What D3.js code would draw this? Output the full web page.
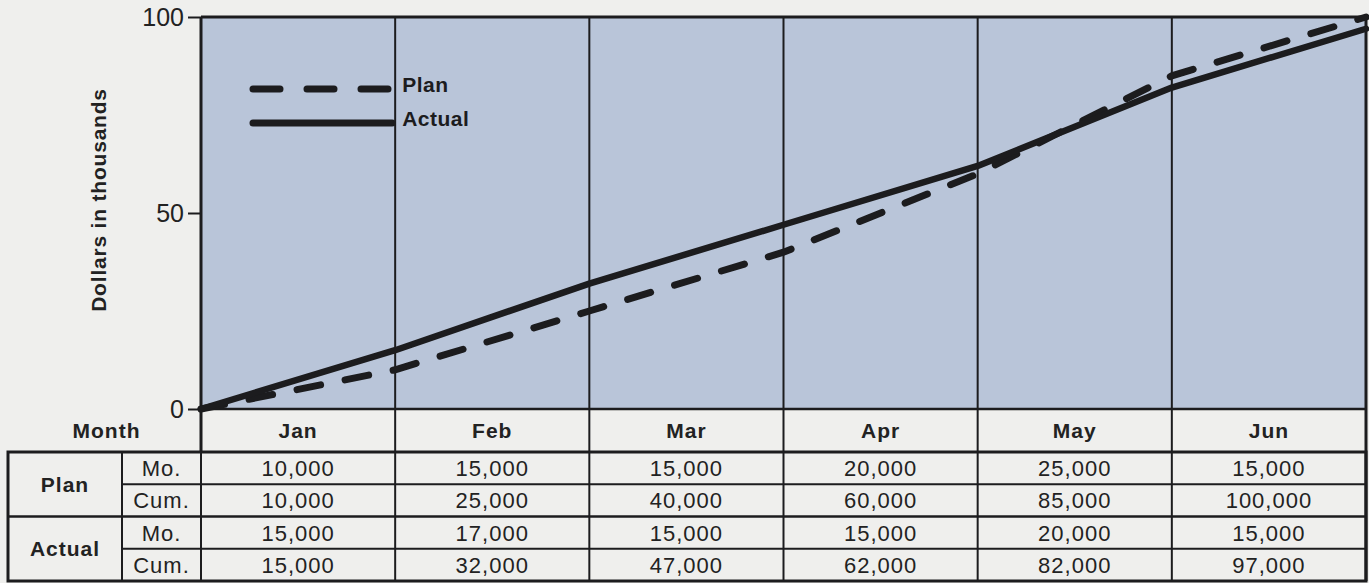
<!DOCTYPE html>
<html>
<head>
<meta charset="utf-8">
<script src="https://cdn.jsdelivr.net/npm/d3@7"></script>
<style>
  html, body { margin: 0; padding: 0; background: #efefed; }
  svg { display: block; font-family: "Liberation Sans", Arial, sans-serif; }
</style>
</head>
<body>
<svg id="chart" width="1369" height="583"></svg>
<script>
// Monthly and cumulative spending, Jan–Jun
const months = ["Jan", "Feb", "Mar", "Apr", "May", "Jun"];
const planMonthly = [10000, 15000, 15000, 20000, 25000, 15000];
const planCum = [10000, 25000, 40000, 60000, 85000, 100000];
const actualMonthly = [15000, 17000, 15000, 15000, 20000, 15000];
const actualCum = [15000, 32000, 47000, 62000, 82000, 97000];
const yTicks = [0, 50, 100];
const seriesNames = ["Plan", "Actual"];

const svg = d3.select("#chart");
const ink = "#1c1c1e";
const textInk = "#222";
const fmt = d3.format(",");

const plot = { left: 201, right: 1366, top: 17, bottom: 409 };
const table = { left: 8, labelCol: 122, headerBottom: 452, bottom: 581 };

// month boundaries: 0 = start of Jan, 6 = end of Jun
const x = d3.scaleLinear().domain([0, months.length]).range([plot.left, plot.right]);
const y = d3.scaleLinear().domain([0, 100]).range([plot.bottom, plot.top]);

// plot background
svg.append("rect")
  .attr("x", x(0)).attr("y", y(100))
  .attr("width", x(6) - x(0)).attr("height", y(0) - y(100))
  .attr("fill", "#b9c5d9");

// month dividers through plot and header row
svg.append("g").selectAll("line")
  .data(d3.range(1, months.length + 1))
  .join("line")
  .attr("x1", d => x(d)).attr("x2", d => x(d))
  .attr("y1", y(100)).attr("y2", table.headerBottom)
  .attr("stroke", ink).attr("stroke-width", 2);

// top border and baseline
svg.append("line").attr("x1", x(0)).attr("x2", x(6)).attr("y1", y(100)).attr("y2", y(100))
  .attr("stroke", ink).attr("stroke-width", 3);
svg.append("line").attr("x1", x(0)).attr("x2", x(6)).attr("y1", y(0)).attr("y2", y(0))
  .attr("stroke", ink).attr("stroke-width", 2.5);

// y axis
const yAxis = svg.append("g")
  .attr("transform", `translate(${x(0)},0)`)
  .call(d3.axisLeft(y).tickValues(yTicks).tickSize(13).tickPadding(4));
yAxis.select(".domain").remove();
yAxis.selectAll(".tick line").attr("stroke", ink).attr("stroke-width", 2);
yAxis.selectAll(".tick text")
  .attr("fill", textInk).attr("font-size", 25)
  .attr("font-family", "'Liberation Sans', Arial, sans-serif");
svg.append("line").attr("x1", x(0)).attr("x2", x(0))
  .attr("y1", y(100)).attr("y2", table.headerBottom)
  .attr("stroke", ink).attr("stroke-width", 3);

// y axis title
svg.append("text")
  .attr("transform", "translate(106,200) rotate(-90)")
  .attr("text-anchor", "middle")
  .attr("font-size", 21).attr("font-weight", "bold").attr("letter-spacing", 0.8).attr("fill", textInk)
  .text("Dollars in thousands");

// cumulative lines
const toPoints = cum => [{ i: 0, v: 0 }].concat(cum.map((c, k) => ({ i: k + 1, v: c / 1000 })));
const line = d3.line().x(d => x(d.i)).y(d => y(d.v));

svg.append("path")
  .datum(toPoints(planCum))
  .attr("d", line)
  .attr("fill", "none").attr("stroke", ink).attr("stroke-width", 7)
  .attr("stroke-linecap", "round").attr("stroke-dasharray", "24,25");

svg.append("path")
  .datum(toPoints(actualCum))
  .attr("d", line)
  .attr("fill", "none").attr("stroke", ink).attr("stroke-width", 6.5)
  .attr("stroke-linecap", "round").attr("stroke-linejoin", "round");

// legend
const legend = svg.append("g");
const legendY = [89, 123];
legend.selectAll("line")
  .data(seriesNames)
  .join("line")
  .attr("x1", 253).attr("x2", x(1) - 3)
  .attr("y1", (d, i) => legendY[i]).attr("y2", (d, i) => legendY[i])
  .attr("stroke", ink).attr("stroke-width", 7)
  .attr("stroke-linecap", "round")
  .attr("stroke-dasharray", (d, i) => i === 0 ? "27,27" : null);
legend.selectAll("text")
  .data(seriesNames)
  .join("text")
  .attr("x", x(1) + 7).attr("y", (d, i) => legendY[i] + 3)
  .attr("font-size", 21).attr("font-weight", "bold").attr("letter-spacing", 0.5).attr("fill", ink)
  .text(d => d);

// ---- table ----
const headerMid = (y(0) + table.headerBottom) / 2;
const headFont = { size: 21, spacing: 1 };
const bodyFont = { size: 22, spacing: 1 };

svg.append("text")
  .attr("x", (table.left + x(0)) / 2 + 2).attr("y", headerMid).attr("dy", "0.36em")
  .attr("text-anchor", "middle").attr("font-size", headFont.size).attr("letter-spacing", headFont.spacing)
  .attr("font-weight", "bold").attr("fill", textInk)
  .text("Month");

svg.append("g").selectAll("text")
  .data(months)
  .join("text")
  .attr("x", (d, i) => x(i + 0.5)).attr("y", headerMid).attr("dy", "0.36em")
  .attr("text-anchor", "middle").attr("font-size", headFont.size).attr("letter-spacing", headFont.spacing)
  .attr("font-weight", "bold").attr("fill", textInk)
  .text(d => d);

// table body rows
const rows = [
  { series: "Plan", kind: "Mo.", values: planMonthly },
  { series: "Plan", kind: "Cum.", values: planCum },
  { series: "Actual", kind: "Mo.", values: actualMonthly },
  { series: "Actual", kind: "Cum.", values: actualCum }
];
const ry = d3.scaleBand().domain(d3.range(rows.length)).range([table.headerBottom, table.bottom]);

// body background
svg.append("rect")
  .attr("x", table.left).attr("y", table.headerBottom)
  .attr("width", x(6) - table.left).attr("height", table.bottom - table.headerBottom)
  .attr("fill", "#efefed");

// inner horizontal rules
svg.append("g").selectAll("line")
  .data(d3.range(1, rows.length))
  .join("line")
  .attr("x1", d => d % 2 === 0 ? table.left : table.labelCol)
  .attr("x2", x(6))
  .attr("y1", d => ry(d)).attr("y2", d => ry(d))
  .attr("stroke", ink).attr("stroke-width", d => d % 2 === 0 ? 2.5 : 1.8);

// inner vertical rules
svg.append("g").selectAll("line")
  .data([table.labelCol].concat(d3.range(0, months.length).map(i => x(i))))
  .join("line")
  .attr("x1", d => d).attr("x2", d => d)
  .attr("y1", table.headerBottom).attr("y2", table.bottom)
  .attr("stroke", ink).attr("stroke-width", 2);

// series group labels
svg.append("g").selectAll("text")
  .data(seriesNames)
  .join("text")
  .attr("x", (table.left + table.labelCol) / 2)
  .attr("y", (d, i) => ry(i * 2) + ry.bandwidth()).attr("dy", "0.36em")
  .attr("text-anchor", "middle").attr("font-size", headFont.size).attr("letter-spacing", headFont.spacing)
  .attr("font-weight", "bold").attr("fill", textInk)
  .text(d => d);

// Mo. / Cum. labels
svg.append("g").selectAll("text")
  .data(rows)
  .join("text")
  .attr("x", (table.labelCol + x(0)) / 2)
  .attr("y", (d, i) => ry(i) + ry.bandwidth() / 2).attr("dy", "0.36em")
  .attr("text-anchor", "middle").attr("font-size", bodyFont.size).attr("letter-spacing", bodyFont.spacing)
  .attr("fill", textInk)
  .text(d => d.kind);

// values
const cells = svg.append("g").selectAll("g")
  .data(rows)
  .join("g")
  .attr("transform", (d, i) => `translate(0,${ry(i) + ry.bandwidth() / 2})`);
cells.selectAll("text")
  .data(d => d.values)
  .join("text")
  .attr("x", (d, i) => x(i + 0.5))
  .attr("dy", "0.36em")
  .attr("text-anchor", "middle").attr("font-size", bodyFont.size).attr("letter-spacing", bodyFont.spacing)
  .attr("fill", textInk)
  .text(d => fmt(d));

// outer border of table body
svg.append("path")
  .attr("d", `M${x(0)},${table.headerBottom}H${table.left}V${table.bottom}H${x(6)}V${table.headerBottom}H${x(0)}`)
  .attr("fill", "none").attr("stroke", ink).attr("stroke-width", 3);
svg.append("line").attr("x1", x(6)).attr("x2", x(6)).attr("y1", y(100)).attr("y2", table.bottom)
  .attr("stroke", ink).attr("stroke-width", 3);
</script>
</body>
</html>
